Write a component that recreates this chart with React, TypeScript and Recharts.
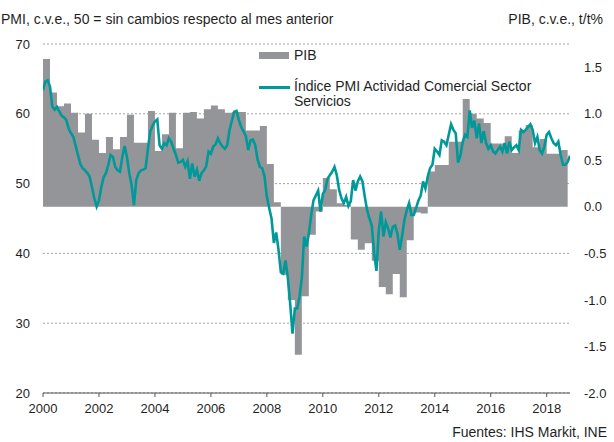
import React from 'react'
import { ComposedChart, Area, Line, XAxis, YAxis, CartesianGrid } from 'recharts'

const START_YEAR = 2000

const yearTicks = [2000, 2002, 2004, 2006, 2008, 2010, 2012, 2014, 2016, 2018]
const pmiTicks = [20, 30, 40, 50, 60, 70]
const pibTicks = [-2, -1.5, -1, -0.5, 0, 0.5, 1, 1.5]

// PIB, t/t %, one value per quarter from 2000 Q1
const pibQuarterly = [
  1.59, 1.23, 1.08, 1.11,
  1.01, 0.8, 1.0, 0.72,
  0.58, 0.75, 0.62, 0.75,
  0.99, 0.69, 0.69, 1.03,
  0.6, 0.78, 1.01, 0.63,
  1.01, 1.02, 0.95, 1.05,
  1.09, 1.05, 1.01, 1.02,
  1.02, 0.82, 0.82, 0.87,
  0.46, 0.05, -0.73, -1.0,
  -1.59, -0.96, -0.3, -0.05,
  0.31, 0.19, 0.04, 0.02,
  -0.35, -0.46, -0.39, -0.58,
  -0.86, -0.94, -0.72, -0.97,
  -0.36, -0.06, -0.07, 0.38,
  0.45, 0.45, 0.7, 0.7,
  1.16, 1.0, 0.95, 0.9,
  0.68, 0.68, 0.76, 0.58,
  0.82, 0.88, 0.64, 0.73,
  0.57, 0.57, 0.61,
]

// PMI servicios, one value per month from Jan 2000
const pmiMonthly = [
  63.4, 64.6, 64.8, 63.9, 61.0, 60.6, 61.0, 60.3, 59.7, 59.5, 59.1, 57.9,
  57.2, 56.7, 55.4, 54.1, 52.8, 52.2, 51.9, 51.5, 51.0, 49.5, 47.9, 46.7,
  47.6, 49.5, 50.9, 51.5, 52.7, 54.1, 53.8, 52.4, 51.9, 51.7, 53.8, 55.4,
  53.8, 51.5, 49.8, 46.9, 50.5, 51.5, 51.9, 52.0, 52.2, 55.0, 57.5, 58.3,
  58.9, 59.2, 55.5, 55.0, 55.8, 55.5, 56.5, 56.0, 55.0, 54.1, 53.0, 53.1,
  53.4, 52.4, 53.2, 50.7, 52.9, 51.0, 52.0, 50.4, 51.5, 51.9, 52.5, 54.6,
  54.3, 55.3, 55.6, 56.5, 55.8, 55.3, 55.0, 55.5, 57.7, 59.0, 60.3, 60.4,
  59.1, 58.1, 57.5, 56.8, 54.8, 56.2, 56.3, 55.5, 53.5, 52.4, 52.2, 51.0,
  48.1, 46.5, 45.0, 41.5, 43.0, 40.5, 37.3, 37.1, 39.0, 36.5, 32.8, 28.5,
  32.1, 32.1, 33.8, 36.5, 42.4, 41.0, 42.8, 45.5, 47.6, 48.3, 49.0, 46.0,
  48.5, 49.1, 50.7, 51.2, 51.7, 52.4, 51.2, 49.1, 47.9, 47.2, 48.1, 46.8,
  47.5, 50.5, 49.0, 50.3, 51.0, 50.3, 48.1, 46.2, 45.0, 44.0, 40.0, 37.5,
  43.3, 46.0, 42.4, 44.5, 43.6, 42.3, 43.8, 44.0, 42.8, 40.5, 42.5, 44.8,
  46.2, 47.2, 45.5, 45.5, 46.5, 47.6, 48.3, 50.3, 49.3, 51.0, 52.2, 52.7,
  55.0, 54.6, 54.1, 56.2, 56.0, 55.5, 57.0, 58.5, 57.7, 57.2, 53.0, 54.0,
  56.0, 57.0, 56.7, 60.5, 58.0, 59.0, 56.5, 58.6, 55.8, 57.5, 55.8, 55.0,
  55.5, 54.6, 54.3, 54.8, 55.3, 54.6, 55.8, 54.3, 56.0, 54.8, 55.2, 55.5,
  54.8, 57.7, 57.4, 57.7, 58.1, 58.5, 57.7, 55.8, 56.7, 54.8, 54.3, 55.3,
  57.0, 57.4, 56.5, 55.8, 55.5, 56.0, 54.1, 52.7, 52.7, 53.1, 54.0,
]

// monthly rows; the quarterly PIB is held for its three months (+1 row to close the last step)
const rows = pmiMonthly.map((pmi, m) => {
  const q = Math.floor(m / 3)
  let pib: number | null = null
  if (q < pibQuarterly.length) pib = pibQuarterly[q]
  else if (m === pibQuarterly.length * 3) pib = pibQuarterly[pibQuarterly.length - 1]
  return { t: START_YEAR + m / 12, pmi, pib }
})

const FONT = '"Liberation Sans", Arial, sans-serif'
const TEXT = '#1f1f1f'
const GREY = '#949598'
const TEAL = '#00999a'

export default function App() {
  const xMax = START_YEAR + (pmiMonthly.length - 1) / 12

  return (
    <div style={{ position: 'absolute', left: 0, top: 0, width: 614, height: 442, background: '#fff', fontFamily: FONT, color: TEXT }}>
      <ComposedChart width={614} height={442} data={rows} margin={{ top: 44, right: 0, bottom: 19, left: 0 }}>
        <CartesianGrid yAxisId="pmi" vertical={false} stroke="#a3a3a3" strokeDasharray="2 2" />
        <XAxis
          dataKey="t"
          type="number"
          domain={[START_YEAR, xMax]}
          ticks={yearTicks}
          interval={0}
          allowDataOverflow
          height={30}
          tickSize={4}
          tickMargin={7}
          axisLine={{ stroke: '#555' }}
          tickLine={{ stroke: '#555' }}
          tick={{ fontSize: 13, fill: TEXT, fontFamily: FONT }}
        />
        <YAxis
          yAxisId="pmi"
          orientation="left"
          domain={[20, 70]}
          ticks={pmiTicks}
          interval={0}
          width={43}
          axisLine={false}
          tickLine={false}
          tickSize={0}
          tickMargin={13}
          tick={{ fontSize: 13, fill: TEXT, fontFamily: FONT }}
        />
        <YAxis
          yAxisId="pib"
          orientation="right"
          domain={[-2, 1.75]}
          ticks={pibTicks}
          interval={0}
          width={44}
          axisLine={false}
          tickLine={false}
          tickSize={0}
          tickMargin={14}
          tickFormatter={(v: number) => v.toFixed(1)}
          tick={{ fontSize: 13, fill: TEXT, fontFamily: FONT }}
        />
        <Area
          yAxisId="pib"
          dataKey="pib"
          type="stepAfter"
          stroke="none"
          fill={GREY}
          fillOpacity={1}
          baseValue={0}
          dot={false}
          activeDot={false}
          isAnimationActive={false}
        />
        <Line
          yAxisId="pmi"
          dataKey="pmi"
          type="linear"
          stroke={TEAL}
          strokeWidth={2.6}
          dot={false}
          activeDot={false}
          isAnimationActive={false}
        />
      </ComposedChart>

      <div style={{ position: 'absolute', left: 1, top: 11, fontSize: 14, whiteSpace: 'nowrap' }}>
        PMI, c.v.e., 50 = sin cambios respecto al mes anterior
      </div>
      <div style={{ position: 'absolute', right: 11, top: 11, fontSize: 14, whiteSpace: 'nowrap' }}>
        PIB, c.v.e., t/t%
      </div>
      <div style={{ position: 'absolute', right: 7, top: 424, fontSize: 14, whiteSpace: 'nowrap' }}>
        Fuentes: IHS Markit, INE
      </div>

      <div style={{ position: 'absolute', left: 259, top: 52, width: 30, height: 7, background: GREY }} />
      <div style={{ position: 'absolute', left: 294, top: 47, fontSize: 14, lineHeight: '17px' }}>PIB</div>
      <div style={{ position: 'absolute', left: 259, top: 86, width: 31, height: 3, background: TEAL }} />
      <div style={{ position: 'absolute', left: 294, top: 79, fontSize: 14, lineHeight: '15px', width: 260 }}>
        Índice PMI Actividad Comercial Sector
        <br />
        Servicios
      </div>
    </div>
  )
}
